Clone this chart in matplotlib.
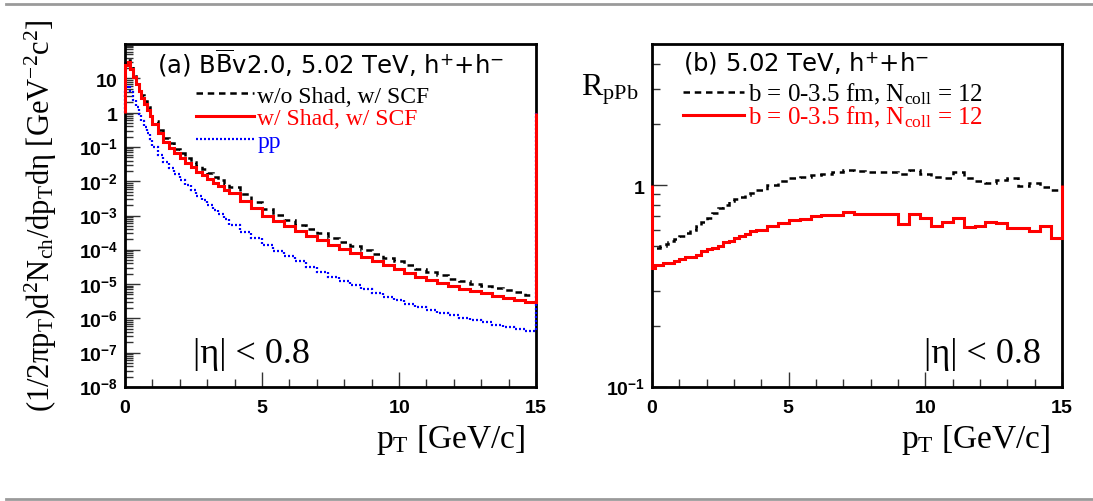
import numpy as np
import matplotlib
matplotlib.use("Agg")
import matplotlib.pyplot as plt
from matplotlib.lines import Line2D
from matplotlib.ticker import FixedLocator, FuncFormatter, NullFormatter

plt.rcParams['mathtext.fontset'] = 'custom'
plt.rcParams['mathtext.rm'] = 'Liberation Serif'
plt.rcParams['mathtext.it'] = 'Liberation Serif:italic'
plt.rcParams['mathtext.bf'] = 'Liberation Sans:bold'
plt.rcParams['mathtext.sf'] = 'DejaVu Sans'

# ---------------- data ----------------
# bin edges in pT [GeV/c]
pt_edges = np.round(np.concatenate([np.arange(0.0, 1.0, 0.1),
                                    np.arange(1.0, 3.8, 0.2),
                                    np.arange(3.8, 15.01, 0.4)]), 2)

# (a) spectra, w/o shadowing, w/ SCF (black dashed)
spec_noshad = [28.2, 34.7, 22.4, 13.5, 8.3, 5.1, 3.3, 2.14, 1.45, 0.95,
               0.58, 0.32, 0.18, 0.126, 0.089, 0.065, 0.049, 0.037, 0.028, 0.022,
               0.017, 0.0135, 0.0107, 0.0085,
               6.6e-3, 4.1e-3, 2.45e-3, 1.55e-3, 1.05e-3, 7.4e-4, 5.4e-4, 4.0e-4,
               3.0e-4, 2.24e-4, 1.74e-4, 1.32e-4, 1.0e-4, 7.8e-5, 5.9e-5, 4.7e-5,
               3.6e-5, 2.8e-5, 2.3e-5, 1.82e-5, 1.45e-5, 1.2e-5, 1.02e-5, 8.9e-6,
               7.6e-6, 6.6e-6, 5.8e-6, 4.9e-6]
# (a) spectra, w/ shadowing, w/ SCF (red solid)
spec_shad = [24.0, 29.5, 18.6, 11.2, 6.9, 4.3, 2.75, 1.78, 1.20, 0.79,
             0.47, 0.25, 0.14, 0.095, 0.066, 0.047, 0.035, 0.026, 0.019, 0.0148,
             0.0115, 0.0089, 0.0071, 0.0056,
             4.4e-3, 2.6e-3, 1.6e-3, 1.0e-3, 6.8e-4, 4.8e-4, 3.5e-4, 2.6e-4,
             1.9e-4, 1.4e-4, 1.07e-4, 8.1e-5, 6.2e-5, 4.7e-5, 3.5e-5, 2.75e-5,
             2.1e-5, 1.66e-5, 1.32e-5, 1.07e-5, 8.9e-6, 7.4e-6, 6.3e-6, 5.4e-6,
             4.6e-6, 4.0e-6, 3.5e-6, 2.95e-6]
# (a) pp spectrum (blue dotted)
spec_pp = [4.8, 6.0, 3.9, 2.34, 1.45, 0.89, 0.575, 0.37, 0.25, 0.166,
           0.100, 0.060, 0.037, 0.024, 0.0158, 0.0107, 7.6e-3, 5.4e-3, 3.8e-3, 2.75e-3,
           2.0e-3, 1.45e-3, 1.07e-3, 7.9e-4,
           5.4e-4, 3.4e-4, 2.2e-4, 1.41e-4, 9.3e-5, 6.5e-5, 4.6e-5, 3.2e-5,
           2.3e-5, 1.66e-5, 1.23e-5, 9.3e-6, 7.1e-6, 5.5e-6, 4.3e-6, 3.4e-6,
           2.7e-6, 2.1e-6, 1.78e-6, 1.48e-6, 1.23e-6, 1.05e-6, 8.9e-7, 7.6e-7,
           6.5e-7, 5.6e-7, 4.9e-7, 4.3e-7]

# (b) R_pPb, w/o shadowing (black dashed)
rppb_noshad = [0.49, 0.49, 0.49, 0.50, 0.50, 0.51, 0.52, 0.53, 0.54, 0.55,
               0.56, 0.58, 0.60, 0.63, 0.66, 0.69, 0.73, 0.77, 0.80, 0.83,
               0.85, 0.87, 0.89, 0.91,
               0.95, 1.00, 1.05, 1.08, 1.10, 1.12, 1.14, 1.16, 1.19, 1.18,
               1.16, 1.16, 1.16, 1.13, 1.19, 1.13, 1.10, 1.09, 1.16, 1.08,
               1.05, 1.03, 1.06, 1.08, 0.99, 1.03, 0.98, 0.95]
# (b) R_pPb, w/ shadowing (red solid)
rppb_shad = [0.39, 0.40, 0.40, 0.40, 0.41, 0.41, 0.41, 0.41, 0.42, 0.42,
             0.43, 0.44, 0.44, 0.45, 0.47, 0.48, 0.49, 0.50, 0.52, 0.53,
             0.55, 0.56, 0.57, 0.59,
             0.60, 0.63, 0.65, 0.67, 0.68, 0.70, 0.71, 0.71, 0.735, 0.72,
             0.72, 0.72, 0.72, 0.64, 0.72, 0.69, 0.63, 0.66, 0.69, 0.62,
             0.63, 0.66, 0.65, 0.61, 0.61, 0.59, 0.63, 0.55]

labels_a = ["w/o Shad, w/ SCF", "w/ Shad, w/ SCF", "pp"]
label_b = r"b = 0-3.5 fm, N$_{\mathrm{coll}}$ = 12"

# ---------------- figure ----------------
W, H = 1093, 502
fig = plt.figure(figsize=(W / 100, H / 100), dpi=100)

def px_axes(x0, y0, x1, y1):
    return fig.add_axes([x0 / W, 1 - y1 / H, (x1 - x0) / W, (y1 - y0) / H])

axA = px_axes(125, 45, 536, 388)
axB = px_axes(652, 45, 1062, 388)

serif = 'Liberation Serif'

lw_dash = 1.8
lw_red = 2.2
lw_dot = 1.6
dash_style = (0, (2.6, 1.9))
dot_style = (0, (0.9, 0.9))

# ---- panel (a)
axA.stairs(spec_noshad, pt_edges, baseline=1.0, color='black', lw=lw_dash,
           linestyle=dash_style, zorder=3, clip_on=False, label=labels_a[0])
axA.stairs(spec_shad, pt_edges, baseline=1.0, color='#ff0000', lw=lw_red,
           zorder=3.2, clip_on=False, label=labels_a[1])
axA.stairs(spec_pp, pt_edges, baseline=1.0, color='#0000ff', lw=lw_dot,
           linestyle=dot_style, zorder=3.1, clip_on=False, label=labels_a[2])
axA.set_yscale('log')
axA.set_xlim(0, 15)
axA.set_ylim(1e-8, 1e2)

# ---- panel (b)
axB.stairs(rppb_noshad, pt_edges, baseline=1.0, color='black', lw=lw_dash,
           linestyle=dash_style, zorder=3, clip_on=False, label=label_b)
axB.stairs(rppb_shad, pt_edges, baseline=1.0, color='#ff0000', lw=lw_red,
           zorder=3.2, clip_on=False, label=label_b)
axB.set_yscale('log')
axB.set_xlim(0, 15)
axB.set_ylim(0.1, 5)

def exp_fmt(v, pos):
    e = int(round(np.log10(v)))
    if e == 0:
        return r'$\mathbf{1}$'
    if e == 1:
        return r'$\mathbf{10}$'
    return r'$\mathbf{10}^{\mathbf{%d}}$' % e

for ax in (axA, axB):
    for s in ax.spines.values():
        s.set_linewidth(2.0)
        s.set_color('black')
        s.set_zorder(2.5)
    ax.xaxis.set_major_locator(FixedLocator([0, 5, 10, 15]))
    ax.xaxis.set_minor_locator(FixedLocator([1, 2, 3, 4, 6, 7, 8, 9, 11, 12, 13, 14]))
    ax.xaxis.set_major_formatter(FuncFormatter(lambda v, p: r'$\mathbf{%d}$' % int(round(v))))
    ax.tick_params(axis='both', which='major', direction='in', length=11, width=1.0,
                   color='#333333', labelsize=14, top=False, right=False)
    ax.tick_params(axis='both', which='minor', direction='in', length=6, width=1.0,
                   color='#333333', top=False, right=False)
    ax.tick_params(axis='x', which='major', pad=7)
    ax.tick_params(axis='y', which='major', pad=5)

axA.yaxis.set_major_locator(FixedLocator([10.0 ** k for k in range(-8, 2)]))
axA.yaxis.set_minor_locator(FixedLocator([m * 10.0 ** k for k in range(-8, 2) for m in range(2, 10)]))
axA.yaxis.set_major_formatter(FuncFormatter(exp_fmt))
axA.yaxis.set_minor_formatter(NullFormatter())

axB.yaxis.set_major_locator(FixedLocator([0.1, 1.0]))
axB.yaxis.set_minor_locator(FixedLocator([0.2, 0.3, 0.4, 0.5, 0.6, 0.7, 0.8, 0.9, 2, 3, 4]))
axB.yaxis.set_major_formatter(FuncFormatter(exp_fmt))
axB.yaxis.set_minor_formatter(NullFormatter())

# ---- axis titles
axA.set_ylabel('(1/2πp$_{\\mathrm{T}}$)d$^{2}$N$_{\\mathrm{ch}}$/dp$_{\\mathrm{T}}$dη [GeV$^{-2}$c$^{2}$]',
               fontfamily=serif, fontsize=22)
axA.yaxis.set_label_coords((41 - 125) / 411, (388 - 216) / 343)
axA.yaxis.label.set_va('center')

for ax, x0, w, xr in ((axA, 125, 411, 525), (axB, 652, 410, 1050)):
    ax.set_xlabel(r'p$_{\mathrm{T}}$ [GeV/c]', fontfamily=serif, fontsize=24, ha='right')
    ax.xaxis.set_label_coords((xr - x0) / w, (388 - 440) / 343)
    ax.xaxis.label.set_va('center')

axB.set_ylabel(r'R$_{\mathrm{pPb}}$', fontfamily=serif, fontsize=23, rotation=0,
               ha='center', va='center')
axB.yaxis.set_label_coords((610 - 652) / 410, (388 - 90) / 343)

# ---- in-plot texts
axA.text((157 - 125) / 411, (388 - 63) / 343,
         r'(a) B$\overline{\mathsf{B}}$v2.0, 5.02 TeV, h$^{\mathsf{+}}$+h$^{\mathsf{-}}$',
         transform=axA.transAxes, fontfamily='DejaVu Sans', fontsize=17.5,
         ha='left', va='center')
axB.text((683 - 652) / 410, (388 - 63) / 343,
         r'(b) 5.02 TeV, h$^{\mathsf{+}}$+h$^{\mathsf{-}}$',
         transform=axB.transAxes, fontfamily='DejaVu Sans', fontsize=17.5,
         ha='left', va='center')

for ax, x0, w, xc in ((axA, 125, 411, 251), (axB, 652, 410, 982)):
    ax.text((xc - x0) / w, (388 - 355) / 343, '|η| < 0.8', transform=ax.transAxes,
            fontfamily=serif, fontsize=26, ha='center', va='center')

# ---- legends
legA = axA.legend(loc='upper left', bbox_to_anchor=((196 - 125) / 411, (388 - 86) / 343),
                  frameon=False, prop={'family': serif, 'size': 17},
                  handlelength=2.45, handletextpad=0.15, labelspacing=0.05,
                  borderpad=0, borderaxespad=0, labelcolor='linecolor')
legB = axB.legend(loc='upper left', bbox_to_anchor=((683 - 652) / 410, (388 - 82) / 343),
                  frameon=False, prop={'family': serif, 'size': 18},
                  handlelength=2.45, handletextpad=0.15, labelspacing=-0.1,
                  borderpad=0, borderaxespad=0, labelcolor='linecolor')

# ---- page rules
for yy in (5, 500):
    fig.add_artist(Line2D([6 / W, 1.0], [1 - yy / H, 1 - yy / H], color='#9a9a9a', lw=2.0,
                          transform=fig.transFigure))

fig.savefig('out.png', dpi=100)
